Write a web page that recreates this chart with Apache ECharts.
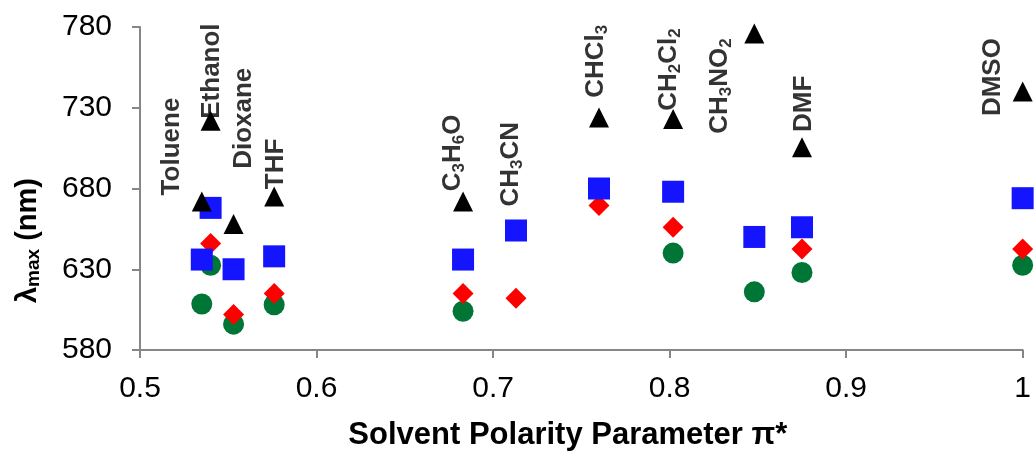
<!DOCTYPE html>
<html>
<head>
<meta charset="utf-8">
<script src="https://cdn.jsdelivr.net/npm/echarts@6/dist/echarts.min.js"></script>
<style>
html,body{margin:0;padding:0;background:#fff;}
#chart{width:1034px;height:456px;}
</style>
</head>
<body>
<div id="chart"></div>
<script>
// ---- data ----
var solvents = ['Toluene','Ethanol','Dioxane','THF','C3H6O','CH3CN','CHCl3','CH2Cl2','CH3NO2','DMF','DMSO'];
var piStar   = [0.535, 0.540, 0.553, 0.576, 0.683, 0.713, 0.760, 0.802, 0.848, 0.875, 1.000];
var triangleVals = [672, 722, 658, 675, 672, null, 724, 723, 776, 705.5, 740];
var squareVals   = [636, 668, 630, 638, 636, 654, 680, 678, 650, 656, 674];
var diamondVals  = [null, 646, 602, 615, 615, 612, 669.5, 656, null, 642.5, 642.5];
var circleVals   = [608.5, 632.5, 596, 608, 604, null, null, 640, 616, 628, 632.5];
// label anchor (centre of each rotated solvent name), in data units
var labelX = [0.518, 0.5405, 0.559, 0.577, 0.677, 0.710, 0.758, 0.7994, 0.8286, 0.876, 0.983];
var labelY = [706, 752.7, 723.5, 695.2, 702, 695, 758.8, 753.6, 743.4, 732.4, 749];
var labelRich = [
  '{m|Toluene}', '{m|Ethanol}', '{m|Dioxane}', '{m|THF}',
  '{m|C}{s|3}{m|H}{s|6}{m|O}', '{m|CH}{s|3}{m|CN}', '{m|CHCl}{s|3}',
  '{m|CH}{s|2}{m|Cl}{s|2}', '{m|CH}{s|3}{m|NO}{s|2}', '{m|DMF}', '{m|DMSO}'
];
var xTicks = {min: 0.5, max: 1.0, interval: 0.1};
var yTicks = {min: 580, max: 780, interval: 50};

function pts(vals) {
  var out = [];
  for (var i = 0; i < vals.length; i++) {
    if (vals[i] !== null) out.push([piStar[i], vals[i]]);
  }
  return out;
}
var labelData = [];
for (var i = 0; i < solvents.length; i++) {
  labelData.push({name: solvents[i], value: [labelX[i], labelY[i]], rich: labelRich[i]});
}

var FONT = '"Liberation Sans", Arial, sans-serif';
var chart = echarts.init(document.getElementById('chart'));
chart.setOption({
  animation: false,
  backgroundColor: '#ffffff',
  grid: {left: 140, right: 9, top: 27, bottom: 103.5},
  xAxis: {
    type: 'value', min: xTicks.min, max: xTicks.max, interval: xTicks.interval,
    axisLine: {show: true, lineStyle: {color: '#868686', width: 2}},
    axisTick: {show: true, inside: false, length: 8, lineStyle: {color: '#868686', width: 2}},
    splitLine: {show: false},
    axisLabel: {fontFamily: FONT, fontSize: 30, color: '#000', margin: 24,
      formatter: function (v) { return String(Math.round(v * 10) / 10); }},
    name: 'Solvent Polarity Parameter π*', nameLocation: 'middle', nameGap: 70,
    nameTextStyle: {fontFamily: FONT, fontSize: 31, fontWeight: 'bold', color: '#000', padding: [0, 27, 0, 0]}
  },
  yAxis: {
    type: 'value', min: yTicks.min, max: yTicks.max, interval: yTicks.interval,
    axisLine: {show: true, lineStyle: {color: '#868686', width: 2}},
    axisTick: {show: true, inside: false, length: 8, lineStyle: {color: '#868686', width: 2}},
    splitLine: {show: false},
    axisLabel: {fontFamily: FONT, fontSize: 30, color: '#000', margin: 28}
  },
  graphic: [{
    type: 'text', left: 13, top: 178, rotation: Math.PI / 2, originX: 0, originY: 0,
    style: {
      text: '{a|λ}{s|max}{a| (nm)}',
      rich: {
        a: {fontFamily: FONT, fontSize: 29, fontWeight: 'bold', fill: '#000', lineHeight: 32},
        s: {fontFamily: FONT, fontSize: 19, fontWeight: 'bold', fill: '#000', lineHeight: 18, verticalAlign: 'bottom'}
      }
    }
  }],
  series: [
    {type: 'scatter', name: 'circle', symbol: 'circle', symbolSize: 21, data: pts(circleVals),
     itemStyle: {color: '#007636', opacity: 1}, z: 2},
    {type: 'scatter', name: 'diamond', symbol: 'diamond', symbolSize: 21, data: pts(diamondVals),
     itemStyle: {color: '#ff0000', opacity: 1}, z: 3},
    {type: 'scatter', name: 'square', symbol: 'rect', symbolSize: 22, data: pts(squareVals),
     itemStyle: {color: '#1414ff', opacity: 1}, z: 4},
    {type: 'scatter', name: 'triangle', symbol: 'triangle', symbolSize: [20, 20], data: pts(triangleVals),
     itemStyle: {color: '#000000', opacity: 1}, z: 5},
    {type: 'scatter', name: 'labels', symbolSize: 0, z: 6, silent: true,
     data: labelData,
     label: {
       show: true, position: 'inside', rotate: 90, align: 'center', verticalAlign: 'middle',
       formatter: function (p) { return p.data.rich; },
       rich: {
         m: {fontFamily: FONT, fontSize: 26, fontWeight: 'bold', color: '#000', lineHeight: 30},
         s: {fontFamily: FONT, fontSize: 17, fontWeight: 'bold', color: '#000', lineHeight: 14, verticalAlign: 'bottom'}
       }
     }}
  ]
});
</script>
</body>
</html>
